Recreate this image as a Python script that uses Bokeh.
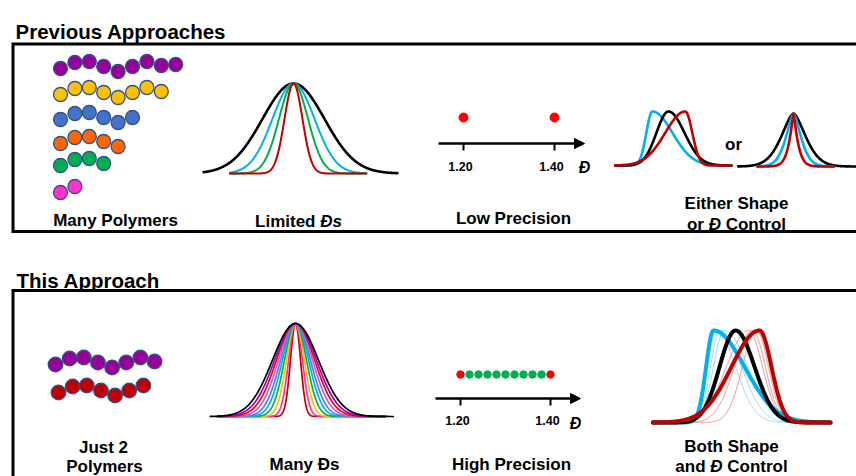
import numpy as np
from bokeh.plotting import figure
from bokeh.models import Range1d, Arrow, NormalHead
from bokeh.core.properties import value
from bokeh.embed import file_html
from bokeh.resources import INLINE

# ---------------- data ----------------
# polymer chains
prev_chain_colors = ["#990099", "#ffc000", "#4472c4", "#ff6600", "#00b050", "#ff33cc"]
prev_chain_counts = [9, 8, 6, 5, 4, 2]
this_chain_colors = ["#990099", "#c00000"]
this_chain_counts = [8, 7]
chain_wave = [3, -3, -4, 1, 6, 1, -4, 0, -1]

# "Limited Ds" distributions (relative widths)
limited_colors = ["black", "#00b0f0", "#00b050", "#c00000"]
limited_sigma = [1.00, 0.68, 0.47, 0.29]

# "Many Ds" distributions, inner -> outer
many_colors = ["#c00000", "#ff3399", "#ffc000", "#00b050", "#00b0f0",
               "#5b7fdc", "#b266e0", "#ff0000", "#9900cc", "black"]
many_sigma = [0.22, 0.30, 0.39, 0.48, 0.57, 0.65, 0.74, 0.83, 0.91, 1.00]

# dispersity values shown on the axes
tick_D = [1.20, 1.40]
tick_labels = ["1.20", "1.40"]
low_prec_D = [1.20, 1.40]
high_prec_D = [1.20, 1.22, 1.24, 1.26, 1.28, 1.30, 1.32, 1.34, 1.36, 1.38, 1.40]
high_prec_colors = ["#ff0000"] + ["#00b050"] * 9 + ["#ff0000"]

# "Either shape" (skewed) distributions
shape_colors = ["#00b0f0", "black", "#c00000"]
shape_mu = [-1.15, 0.0, 1.20]
shape_sL = [0.43, 0.86, 1.43]
shape_sR = [1.43, 1.14, 0.50]

# "or D control" distributions
dctl_colors = ["black", "#00b0f0", "#c00000"]
dctl_s = [1.00, 0.60, 0.27]
dctl_p = [1.6, 1.5, 1.2]

# "Both shape and D control" distributions
both_colors = ["#00b0f0", "black", "#c00000"]
both_mu = [-1.21, -0.05, 1.21]
both_sL = [0.39, 0.84, 1.47]
both_sR = [1.63, 1.00, 0.63]
faint_red_mu = [0.63, 0.84, 1.05]
faint_red_sL = [1.16, 0.95, 0.74]
faint_red_sR = [0.74, 0.68, 0.63]
faint_blue_mu = [-1.05, -0.84, -0.63]
faint_blue_sL = [0.47, 0.53, 0.58]
faint_blue_sR = [1.00, 1.10, 1.21]

# ---------------- figure ----------------
FONT = "Liberation Sans"
W, H = 856, 476
p = figure(width=W, height=H, output_backend="svg", toolbar_location=None,
           x_range=Range1d(0, W), y_range=Range1d(H, 0),
           min_border=0)
p.axis.visible = False
p.grid.visible = False
p.outline_line_color = None
p.background_fill_color = "white"
p.border_fill_color = "white"

ADV = {' ': 278, '.': 278, '0': 556, '1': 556, '2': 556, '4': 556,
       'A': 722, 'B': 722, 'C': 722, 'D': 722, 'E': 667, 'H': 722, 'J': 556,
       'L': 611, 'M': 833, 'P': 667, 'S': 667, 'T': 611, 'Đ': 722,
       'a': 556, 'c': 556, 'd': 611, 'e': 556, 'g': 611, 'h': 611, 'i': 278,
       'l': 278, 'm': 889, 'n': 611, 'o': 611, 'p': 611, 'r': 389, 's': 556,
       't': 333, 'u': 611, 'y': 556}


def tw(s, size):
    return sum(ADV.get(c, 556) for c in s) * size / 1000.0


def label(x, y, txt, size, style="bold", align="left"):
    p.text([x], [y], [txt], text_font=value(FONT), text_font_style=style,
           text_font_size=value(f"{size}px"), text_align=align,
           text_baseline="alphabetic", text_color="black")


def mixed(parts, cx, y, size):
    total = sum(tw(t, size) for t, _ in parts)
    x = cx - total / 2.0
    for t, st in parts:
        stripped = t.lstrip(" ")
        lead = tw(t[:len(t) - len(stripped)], size)
        if stripped.strip():
            label(x + lead, y, stripped.rstrip(" "), size, st)
        x += tw(t, size)


def curve(cx, base, h, scale, mu, sL, sR, lo, hi, color, lw, alpha=1.0, pw=2.0):
    u = np.linspace(lo, hi, 400)
    d = u - mu
    s = np.where(d < 0, sL, sR)
    f = np.exp(-0.5 * np.abs(d / s) ** pw)
    p.line(cx + u * scale, base - h * f, line_color=color, line_width=lw,
           line_alpha=alpha, line_join="round", line_cap="round")


# ---------------- frames & titles ----------------
p.line([880, 12.5, 12.5, 880], [43.5, 43.5, 231, 231], line_color="black",
       line_width=3, line_join="miter")
p.line([880, 12.5, 12.5], [290, 290, 500], line_color="black",
       line_width=3, line_join="miter")
label(15, 31, "Previous Approaches", 20.5)
label(16, 280, "This Approach", 20.5)

# ---------------- polymer chains ----------------
OUT = "#2f528f"
for i, (col, n) in enumerate(zip(prev_chain_colors, prev_chain_counts)):
    row_y = [65, 91, 116, 140, 162, 189][i]
    xs = [60 + 14.4 * k for k in range(n)]
    ys = [row_y + chain_wave[k] for k in range(n)]
    p.scatter(xs, ys, size=14, fill_color=col, line_color=OUT, line_width=1.3)
for i, (col, n) in enumerate(zip(this_chain_colors, this_chain_counts)):
    row_y = [361, 389][i]
    x0 = [55, 58][i]
    xs = [x0 + 14.15 * k for k in range(n)]
    ys = [row_y + chain_wave[k] for k in range(n)]
    p.scatter(xs, ys, size=14.5, fill_color=col, line_color=OUT, line_width=1.3)

label(115, 220, "Many Polymers", 17, align="center")
label(103, 447, "Just 2", 17, align="center")
label(104, 466, "Polymers", 17, align="center")

# ---------------- Limited Ds ----------------
for col, s in zip(limited_colors, limited_sigma):
    lo, hi = (-2.9, 3.35) if col == "black" else (-2.05, 2.35)
    curve(293, 173, 90, 31, 0.0, s, s, lo, hi, col,
          2.6 if col == "black" else 2.0)
mixed([("Limited ", "bold"), ("Đs", "bold italic")], 298, 221, 17)

# ---------------- Many Ds ----------------
for col, s in zip(many_colors, many_sigma):
    lo, hi = (-3.7, 4.25) if col == "black" else (-3.4, 3.9)
    curve(295, 416, 93, 23, 0.0, s, s, lo, hi, col, 1.7)
label(304, 464, "Many Đs", 17, align="center")

# ---------------- dispersity axes ----------------
def daxis(x120, x140, y_axis, y_dots, Ds, dot_cols, dot_size, lab_y, d_x, d_y):
    def dx(D):
        return x120 + (D - 1.20) / 0.20 * (x140 - x120)
    p.add_layout(Arrow(end=NormalHead(size=10, fill_color="black", line_color="black",
                                      line_width=1),
                       x_start=x120 - 25, y_start=y_axis, x_end=x140 + 30, y_end=y_axis,
                       line_width=2.6, line_color="black"))
    tx = [dx(D) for D in tick_D]
    p.segment(tx, [y_axis] * 2, tx, [y_axis + 7] * 2, line_color="black", line_width=2)
    for t, x in zip(tick_labels, tx):
        label(x - 3, lab_y, t, 12.5, align="center")
    label(d_x, d_y, "Đ", 16, style="bold italic", align="center")
    p.scatter([dx(D) for D in Ds], [y_dots] * len(Ds), size=dot_size,
              fill_color=dot_cols, line_color=dot_cols)


daxis(463, 554, 143, 117, low_prec_D, ["#ff0000", "#ff0000"], 9, 166, 584, 167)
label(513, 218, "Low Precision", 17, align="center")

daxis(460, 550, 398, 374, high_prec_D, high_prec_colors, 7.5, 420, 575, 423)
label(511, 464, "High Precision", 17, align="center")

# ---------------- Either shape or D control ----------------
for col, m, sl, sr in zip(shape_colors, shape_mu, shape_sL, shape_sR):
    curve(668, 165, 54, 14, m, sl, sr, -3.8, 4.5, col, 2.6)
label(733, 144, "or", 17, align="center")
for col, s, pw in zip(dctl_colors, dctl_s, dctl_p):
    lo, hi = (-4.9, 5.5) if col == "black" else (-3.2, 3.6)
    curve(793, 166, 53, 11.3, 0.0, s, s, lo, hi, col, 2.6, pw=pw)
label(736, 203, "Either Shape", 17, align="center")
mixed([("or ", "bold"), ("Đ", "bold italic"), (" Control", "bold")], 736, 224, 17)

# ---------------- Both shape and D control ----------------
for m, sl, sr in zip(faint_red_mu, faint_red_sL, faint_red_sR):
    curve(736, 422, 92, 19, m, sl, sr, -4.4, 4.95, "#e06060", 0.8, alpha=0.8)
for m, sl, sr in zip(faint_blue_mu, faint_blue_sL, faint_blue_sR):
    curve(736, 422, 92, 19, m, sl, sr, -4.4, 4.95, "#70cdf2", 0.8, alpha=0.9)
for col, m, sl, sr in zip(both_colors, both_mu, both_sL, both_sR):
    curve(736, 422, 92, 19, m, sl, sr, -4.4, 4.95, col, 4.0)
label(731, 446, "Both Shape", 17, align="center")
mixed([("and ", "bold"), ("Đ", "bold italic"), (" Control", "bold")], 731, 466, 17)

open("out.html", "w").write(file_html(p, INLINE))
